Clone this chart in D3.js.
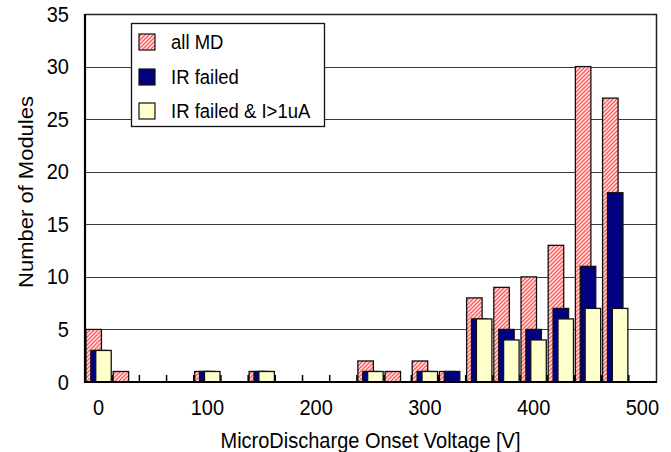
<!DOCTYPE html>
<html lang="en">
<head>
    <meta charset="UTF-8">
    <title>MicroDischarge Onset Voltage</title>
    <script src="https://d3js.org/d3.v7.min.js"></script>
    <style>
        html, body {
            margin: 0;
            padding: 0;
            overflow: hidden;
            background: #fff;
        }
        svg text {
            font-family: "Liberation Sans", Arial, Helvetica, sans-serif;
            fill: #000;
        }
    </style>
</head>
<body>
    <script>
        // bins of 25 V, 0 .. 500
        const voltages = [0, 25, 50, 75, 100, 125, 150, 175, 200, 225, 250, 275, 300, 325, 350, 375, 400, 425, 450, 475, 500];
        const allMD    = [5, 1, 0, 0, 1, 0, 1, 0, 0, 0, 2, 1, 2, 1, 8, 9, 10, 13, 30, 27, 0];
        const irFailed = [3, 0, 0, 0, 1, 0, 1, 0, 0, 0, 1, 0, 1, 1, 6, 5, 5, 7, 11, 18, 0];
        const irCurr   = [3, 0, 0, 0, 1, 0, 1, 0, 0, 0, 1, 0, 1, 0, 6, 4, 4, 6, 7, 7, 0];
        const seriesNames = ["all MD", "IR failed", "IR failed & I>1uA"];
        const yTicks = [0, 5, 10, 15, 20, 25, 30, 35];
        const xLabels = [0, 100, 200, 300, 400, 500];

        const W = 671, H = 452;
        const margin = {left: 85, right: 15, top: 14, bottom: 70};
        const stretch = 1.1; // text in the original looks a bit taller than wide

        const svg = d3.select("body").append("svg")
            .attr("width", W)
            .attr("height", H);

        const defs = svg.append("defs");

        // red hatching for "all MD"
        const hatch = defs.append("pattern")
            .attr("id", "hatch")
            .attr("patternUnits", "userSpaceOnUse")
            .attr("width", 4)
            .attr("height", 4);
        hatch.append("rect")
            .attr("width", 4).attr("height", 4)
            .attr("fill", "#ffe4e4");
        hatch.append("path")
            .attr("d", "M-1,1 l2,-2 M0,4 l4,-4 M3,5 l2,-2")
            .attr("stroke", "#ff5a5a")
            .attr("stroke-width", 1.3);

        const colors = ["url(#hatch)", "#000080", "#ffffcc"];

        const x = d3.scaleBand()
            .domain(voltages)
            .range([margin.left, W - margin.right]);

        const y = d3.scaleLinear()
            .domain([0, 35])
            .range([H - margin.bottom, margin.top]);

        const bw = x.bandwidth();
        const barW = bw * 0.57;
        const shift = bw * 0.18;

        // helper: text placed at (tx, ty) and stretched a little vertically
        function placed(tx, ty) {
            return `translate(${tx},${ty}) scale(1,${stretch})`;
        }

        // gridlines
        svg.append("g")
            .selectAll("line")
            .data(yTicks.filter(t => t > 0 && t < 35))
            .enter().append("line")
            .attr("x1", margin.left)
            .attr("x2", W - margin.right)
            .attr("y1", d => Math.round(y(d)) + 0.5)
            .attr("y2", d => Math.round(y(d)) + 0.5)
            .attr("stroke", "#3a3a3a")
            .attr("stroke-width", 1);

        // frame top / right
        svg.append("path")
            .attr("d", `M${margin.left},${margin.top + 0.5} H${W - margin.right + 0.5} V${H - margin.bottom}`)
            .attr("fill", "none")
            .attr("stroke", "#222")
            .attr("stroke-width", 1.5);

        // bars, drawn in series order so later ones sit on top
        const series = [allMD, irFailed, irCurr];
        series.forEach((vals, si) => {
            svg.append("g")
                .selectAll("rect")
                .data(voltages.map((v, i) => ({v: v, n: vals[i]})).filter(d => d.n > 0))
                .enter().append("rect")
                .attr("x", d => x(d.v) + bw / 2 + (si - 1) * shift - barW / 2)
                .attr("y", d => y(d.n))
                .attr("width", barW)
                .attr("height", d => y(0) - y(d.n))
                .attr("fill", colors[si])
                .attr("stroke", "#111")
                .attr("stroke-width", 1.3);
        });

        // x axis: baseline + inside ticks at bin boundaries
        const xAxis = svg.append("g");
        xAxis.selectAll("line.tick")
            .data(voltages.slice(1))
            .enter().append("line")
            .attr("x1", d => x(d)).attr("x2", d => x(d))
            .attr("y1", y(0)).attr("y2", y(0) - 7)
            .attr("stroke", "#000")
            .attr("stroke-width", 1.5);
        xAxis.append("line")
            .attr("x1", margin.left - 1).attr("x2", W - margin.right + 1)
            .attr("y1", y(0)).attr("y2", y(0))
            .attr("stroke", "#000")
            .attr("stroke-width", 2.2);
        xAxis.selectAll("text")
            .data(xLabels)
            .enter().append("text")
            .attr("transform", d => placed(x(d) + bw / 2, y(0) + 33))
            .attr("text-anchor", "middle")
            .attr("font-size", 20)
            .text(d => d);

        // y axis
        svg.append("line")
            .attr("x1", margin.left).attr("x2", margin.left)
            .attr("y1", margin.top).attr("y2", y(0) + 1)
            .attr("stroke", "#000")
            .attr("stroke-width", 2.2);
        svg.append("g")
            .selectAll("text")
            .data(yTicks)
            .enter().append("text")
            .attr("transform", d => placed(margin.left - 16, y(d) + 7.5))
            .attr("text-anchor", "end")
            .attr("font-size", 20)
            .text(d => d);

        // axis titles
        svg.append("text")
            .attr("transform", placed((margin.left + W - margin.right) / 2, 448))
            .attr("text-anchor", "middle")
            .attr("font-size", 20)
            .text("MicroDischarge Onset Voltage [V]");
        svg.append("text")
            .attr("transform", `translate(33,192) rotate(-90) scale(${stretch},1)`)
            .attr("text-anchor", "middle")
            .attr("font-size", 20)
            .text("Number of Modules");

        // legend
        const legend = svg.append("g");
        legend.append("rect")
            .attr("x", 131.5).attr("y", 23.5)
            .attr("width", 193).attr("height", 103)
            .attr("fill", "#fff")
            .attr("stroke", "#111")
            .attr("stroke-width", 1.3);
        const rowY = [42, 77, 111];
        seriesNames.forEach((name, i) => {
            legend.append("rect")
                .attr("x", 139).attr("y", rowY[i] - 8)
                .attr("width", 16).attr("height", 16)
                .attr("fill", colors[i])
                .attr("stroke", "#111")
                .attr("stroke-width", 1.2);
            legend.append("text")
                .attr("transform", placed(171, rowY[i] + 7))
                .attr("font-size", 18.5)
                .text(name);
        });
    </script>
</body>
</html>
